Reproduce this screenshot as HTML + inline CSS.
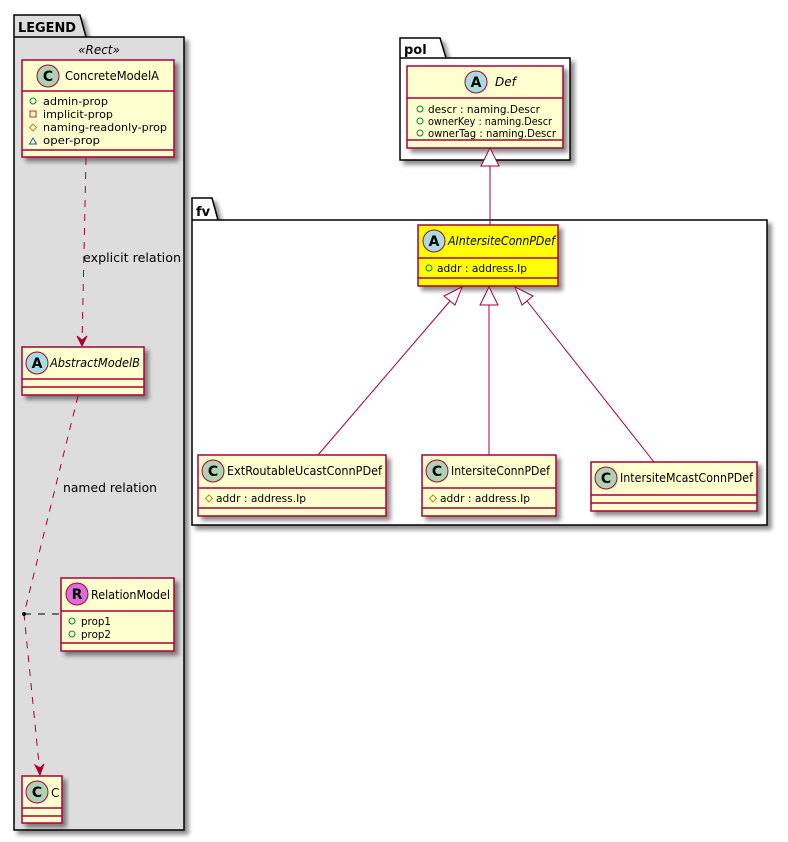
<!DOCTYPE html>
<html><head><meta charset="utf-8"><style>
html,body{margin:0;padding:0;background:#fff}
svg{display:block}
text{font-family:"DejaVu Sans","Liberation Sans",sans-serif;fill:#000}
</style></head><body>
<svg width="788" height="842" viewBox="0 0 788 842" xmlns="http://www.w3.org/2000/svg">
<defs>
<filter id="sh" x="-10%" y="-10%" width="130%" height="130%"><feGaussianBlur in="SourceAlpha" stdDeviation="2"/><feOffset dx="4" dy="4"/><feComponentTransfer><feFuncA type="linear" slope="0.45"/></feComponentTransfer><feMerge><feMergeNode/><feMergeNode in="SourceGraphic"/></feMerge></filter>
</defs>

<g filter="url(#sh)">
<path d="M14,15 L80,15 L86,37 L184,37 L184,830 L14,830 Z" fill="#DDDDDD" stroke="#000" stroke-width="1.5"/>
</g>
<line x1="14" y1="37" x2="86" y2="37" stroke="#000" stroke-width="1.5"/>
<text x="18" y="32" font-size="13" font-weight="bold" textLength="58" lengthAdjust="spacingAndGlyphs">LEGEND</text>
<text x="99" y="54" font-size="12" font-style="italic" text-anchor="middle">«Rect»</text>

<g filter="url(#sh)">
<path d="M400,38 L440,38 L446,58 L570,58 L570,160 L400,160 Z" fill="#fff" stroke="#000" stroke-width="1.5"/>
</g>
<line x1="400" y1="58" x2="446" y2="58" stroke="#000" stroke-width="1.5"/>
<text x="404" y="54" font-size="13" font-weight="bold">pol</text>

<g filter="url(#sh)">
<path d="M192,198 L212,198 L218,220 L767,220 L767,525 L192,525 Z" fill="#fff" stroke="#000" stroke-width="1.5"/>
</g>
<line x1="192" y1="220" x2="218" y2="220" stroke="#000" stroke-width="1.5"/>
<text x="196" y="216" font-size="13" font-weight="bold">fv</text>

<!-- ConcreteModelA -->
<g filter="url(#sh)"><rect x="22" y="60" width="152" height="97" fill="#FEFECE" stroke="#A80036" stroke-width="1.5"/></g>
<line x1="22" y1="91" x2="174" y2="91" stroke="#A80036" stroke-width="1.5"/>
<line x1="22" y1="150" x2="174" y2="150" stroke="#A80036" stroke-width="1.5"/>
<circle cx="48" cy="76" r="11" fill="#ADD1B2" stroke="#A80036"/>
<text x="48" y="81" font-size="14" font-weight="bold" text-anchor="middle">C</text>
<text x="65" y="80" font-size="12" textLength="94" lengthAdjust="spacingAndGlyphs">ConcreteModelA</text>
<circle cx="33" cy="101" r="3" fill="none" stroke="#038048"/>
<text x="43" y="105" font-size="11" textLength="65" lengthAdjust="spacingAndGlyphs">admin-prop</text>
<rect x="30" y="111" width="6" height="6" fill="none" stroke="#C82930"/>
<text x="43" y="118" font-size="11" textLength="70" lengthAdjust="spacingAndGlyphs">implicit-prop</text>
<path d="M33,124 L36.5,127.5 L33,131 L29.5,127.5 Z" fill="none" stroke="#B38D22"/>
<text x="43" y="131" font-size="11" textLength="124" lengthAdjust="spacingAndGlyphs">naming-readonly-prop</text>
<path d="M29.5,144 L33,138 L36.5,144 Z" fill="none" stroke="#1963A0"/>
<text x="43" y="144" font-size="11" textLength="57" lengthAdjust="spacingAndGlyphs">oper-prop</text>

<!-- AbstractModelB -->
<g filter="url(#sh)"><rect x="22" y="347" width="122" height="48" fill="#FEFECE" stroke="#A80036" stroke-width="1.5"/></g>
<line x1="22" y1="379" x2="144" y2="379" stroke="#A80036" stroke-width="1.5"/>
<line x1="22" y1="387" x2="144" y2="387" stroke="#A80036" stroke-width="1.5"/>
<circle cx="37" cy="363" r="11" fill="#A9DCDF" stroke="#A80036"/>
<text x="37" y="368" font-size="14" font-weight="bold" text-anchor="middle">A</text>
<text x="50" y="367" font-size="12" font-style="italic" textLength="90" lengthAdjust="spacingAndGlyphs">AbstractModelB</text>

<!-- RelationModel -->
<g filter="url(#sh)"><rect x="61" y="578" width="113" height="73" fill="#FEFECE" stroke="#A80036" stroke-width="1.5"/></g>
<line x1="61" y1="611" x2="174" y2="611" stroke="#A80036" stroke-width="1.5"/>
<line x1="61" y1="643" x2="174" y2="643" stroke="#A80036" stroke-width="1.5"/>
<circle cx="77" cy="594" r="11" fill="#DA70D6" stroke="#A80036"/>
<text x="77" y="599" font-size="14" font-weight="bold" text-anchor="middle">R</text>
<text x="91" y="599" font-size="12" textLength="79" lengthAdjust="spacingAndGlyphs">RelationModel</text>
<circle cx="72" cy="621" r="3" fill="none" stroke="#038048"/>
<text x="81" y="625" font-size="11" textLength="30" lengthAdjust="spacingAndGlyphs">prop1</text>
<circle cx="72" cy="634" r="3" fill="none" stroke="#038048"/>
<text x="81" y="638" font-size="11" textLength="30" lengthAdjust="spacingAndGlyphs">prop2</text>

<!-- C -->
<g filter="url(#sh)"><rect x="22" y="776" width="40" height="47" fill="#FEFECE" stroke="#A80036" stroke-width="1.5"/></g>
<line x1="22" y1="808" x2="62" y2="808" stroke="#A80036" stroke-width="1.5"/>
<line x1="22" y1="816" x2="62" y2="816" stroke="#A80036" stroke-width="1.5"/>
<circle cx="37" cy="792" r="11" fill="#ADD1B2" stroke="#A80036"/>
<text x="37" y="797" font-size="14" font-weight="bold" text-anchor="middle">C</text>
<text x="51" y="797" font-size="12">C</text>

<path d="M86,158 L82,345" fill="none" stroke="#A80036" stroke-dasharray="7,7"/>
<path d="M77,336 L82,346 L87,336 L82,340 Z" fill="#A80036" stroke="#A80036"/>
<text x="83" y="262" font-size="12" textLength="98" lengthAdjust="spacingAndGlyphs">explicit relation</text>
<path d="M78,396 L24,614 L40,774" fill="none" stroke="#A80036" stroke-dasharray="7,7"/>
<path d="M35,765 L40,775 L44,764 L40,768 Z" fill="#A80036" stroke="#A80036"/>
<text x="63" y="492" font-size="12" textLength="94" lengthAdjust="spacingAndGlyphs">named relation</text>
<line x1="24" y1="614" x2="61" y2="614" stroke="#000" stroke-dasharray="7,7"/>
<circle cx="24" cy="614" r="2" fill="#000"/>

<!-- Def -->
<g filter="url(#sh)"><rect x="407" y="66" width="156" height="82" fill="#FEFECE" stroke="#A80036" stroke-width="1.5"/></g>
<line x1="407" y1="98" x2="563" y2="98" stroke="#A80036" stroke-width="1.5"/>
<line x1="407" y1="140" x2="563" y2="140" stroke="#A80036" stroke-width="1.5"/>
<circle cx="476" cy="82" r="11" fill="#A9DCDF" stroke="#A80036"/>
<text x="476" y="87" font-size="14" font-weight="bold" text-anchor="middle">A</text>
<text x="495" y="86" font-size="12" font-style="italic">Def</text>
<circle cx="420" cy="109" r="3" fill="none" stroke="#038048"/>
<text x="428" y="113" font-size="11" textLength="112" lengthAdjust="spacingAndGlyphs">descr : naming.Descr</text>
<circle cx="420" cy="121" r="3" fill="none" stroke="#038048"/>
<text x="428" y="125" font-size="11" textLength="124" lengthAdjust="spacingAndGlyphs">ownerKey : naming.Descr</text>
<circle cx="420" cy="133" r="3" fill="none" stroke="#038048"/>
<text x="428" y="137" font-size="11" textLength="128" lengthAdjust="spacingAndGlyphs">ownerTag : naming.Descr</text>

<!-- AIntersiteConnPDef -->
<g filter="url(#sh)"><rect x="418" y="225" width="140" height="61" fill="#FFFF00" stroke="#A80036" stroke-width="1.5"/></g>
<line x1="418" y1="258" x2="558" y2="258" stroke="#A80036" stroke-width="1.5"/>
<line x1="418" y1="278" x2="558" y2="278" stroke="#A80036" stroke-width="1.5"/>
<circle cx="434" cy="241" r="11" fill="#A9DCDF" stroke="#A80036"/>
<text x="434" y="246" font-size="14" font-weight="bold" text-anchor="middle">A</text>
<text x="448" y="245" font-size="12" font-style="italic" textLength="107" lengthAdjust="spacingAndGlyphs">AIntersiteConnPDef</text>
<circle cx="429" cy="268" r="3" fill="none" stroke="#038048"/>
<text x="437" y="272" font-size="11" textLength="90" lengthAdjust="spacingAndGlyphs">addr : address.Ip</text>

<line x1="490" y1="166" x2="490" y2="225" stroke="#A80036"/>
<path d="M490,148 L481,166 L499,166 Z" fill="#fff" stroke="#A80036"/>

<g filter="url(#sh)"><rect x="198" y="455" width="188" height="61" fill="#FEFECE" stroke="#A80036" stroke-width="1.5"/></g>
<line x1="198" y1="488" x2="386" y2="488" stroke="#A80036" stroke-width="1.5"/>
<line x1="198" y1="508" x2="386" y2="508" stroke="#A80036" stroke-width="1.5"/>
<circle cx="213" cy="471" r="11" fill="#ADD1B2" stroke="#A80036"/>
<text x="213" y="476" font-size="14" font-weight="bold" text-anchor="middle">C</text>
<text x="227" y="475" font-size="12" textLength="155" lengthAdjust="spacingAndGlyphs">ExtRoutableUcastConnPDef</text>
<path d="M209,495 L212.5,498.5 L209,502 L205.5,498.5 Z" fill="none" stroke="#B38D22"/>
<text x="216" y="502" font-size="11" textLength="90" lengthAdjust="spacingAndGlyphs">addr : address.Ip</text>

<g filter="url(#sh)"><rect x="422" y="455" width="134" height="61" fill="#FEFECE" stroke="#A80036" stroke-width="1.5"/></g>
<line x1="422" y1="488" x2="556" y2="488" stroke="#A80036" stroke-width="1.5"/>
<line x1="422" y1="508" x2="556" y2="508" stroke="#A80036" stroke-width="1.5"/>
<circle cx="437" cy="471" r="11" fill="#ADD1B2" stroke="#A80036"/>
<text x="437" y="476" font-size="14" font-weight="bold" text-anchor="middle">C</text>
<text x="451" y="475" font-size="12" textLength="99" lengthAdjust="spacingAndGlyphs">IntersiteConnPDef</text>
<path d="M433,495 L436.5,498.5 L433,502 L429.5,498.5 Z" fill="none" stroke="#B38D22"/>
<text x="440" y="502" font-size="11" textLength="90" lengthAdjust="spacingAndGlyphs">addr : address.Ip</text>

<g filter="url(#sh)"><rect x="591" y="462" width="166" height="49" fill="#FEFECE" stroke="#A80036" stroke-width="1.5"/></g>
<line x1="591" y1="495" x2="757" y2="495" stroke="#A80036" stroke-width="1.5"/>
<line x1="591" y1="503" x2="757" y2="503" stroke="#A80036" stroke-width="1.5"/>
<circle cx="606" cy="478" r="11" fill="#ADD1B2" stroke="#A80036"/>
<text x="606" y="483" font-size="14" font-weight="bold" text-anchor="middle">C</text>
<text x="620" y="482" font-size="12" textLength="133" lengthAdjust="spacingAndGlyphs">IntersiteMcastConnPDef</text>

<line x1="450" y1="301" x2="318" y2="455" stroke="#A80036"/>
<path d="M462,287 L444,296 L455,305 Z" fill="#fff" stroke="#A80036"/>
<line x1="489" y1="305" x2="489" y2="455" stroke="#A80036"/>
<path d="M489,287 L480,305 L498,305 Z" fill="#fff" stroke="#A80036"/>
<line x1="527" y1="301" x2="654" y2="462" stroke="#A80036"/>
<path d="M515,287 L522,305 L533,296 Z" fill="#fff" stroke="#A80036"/>
</svg>
</body></html>
